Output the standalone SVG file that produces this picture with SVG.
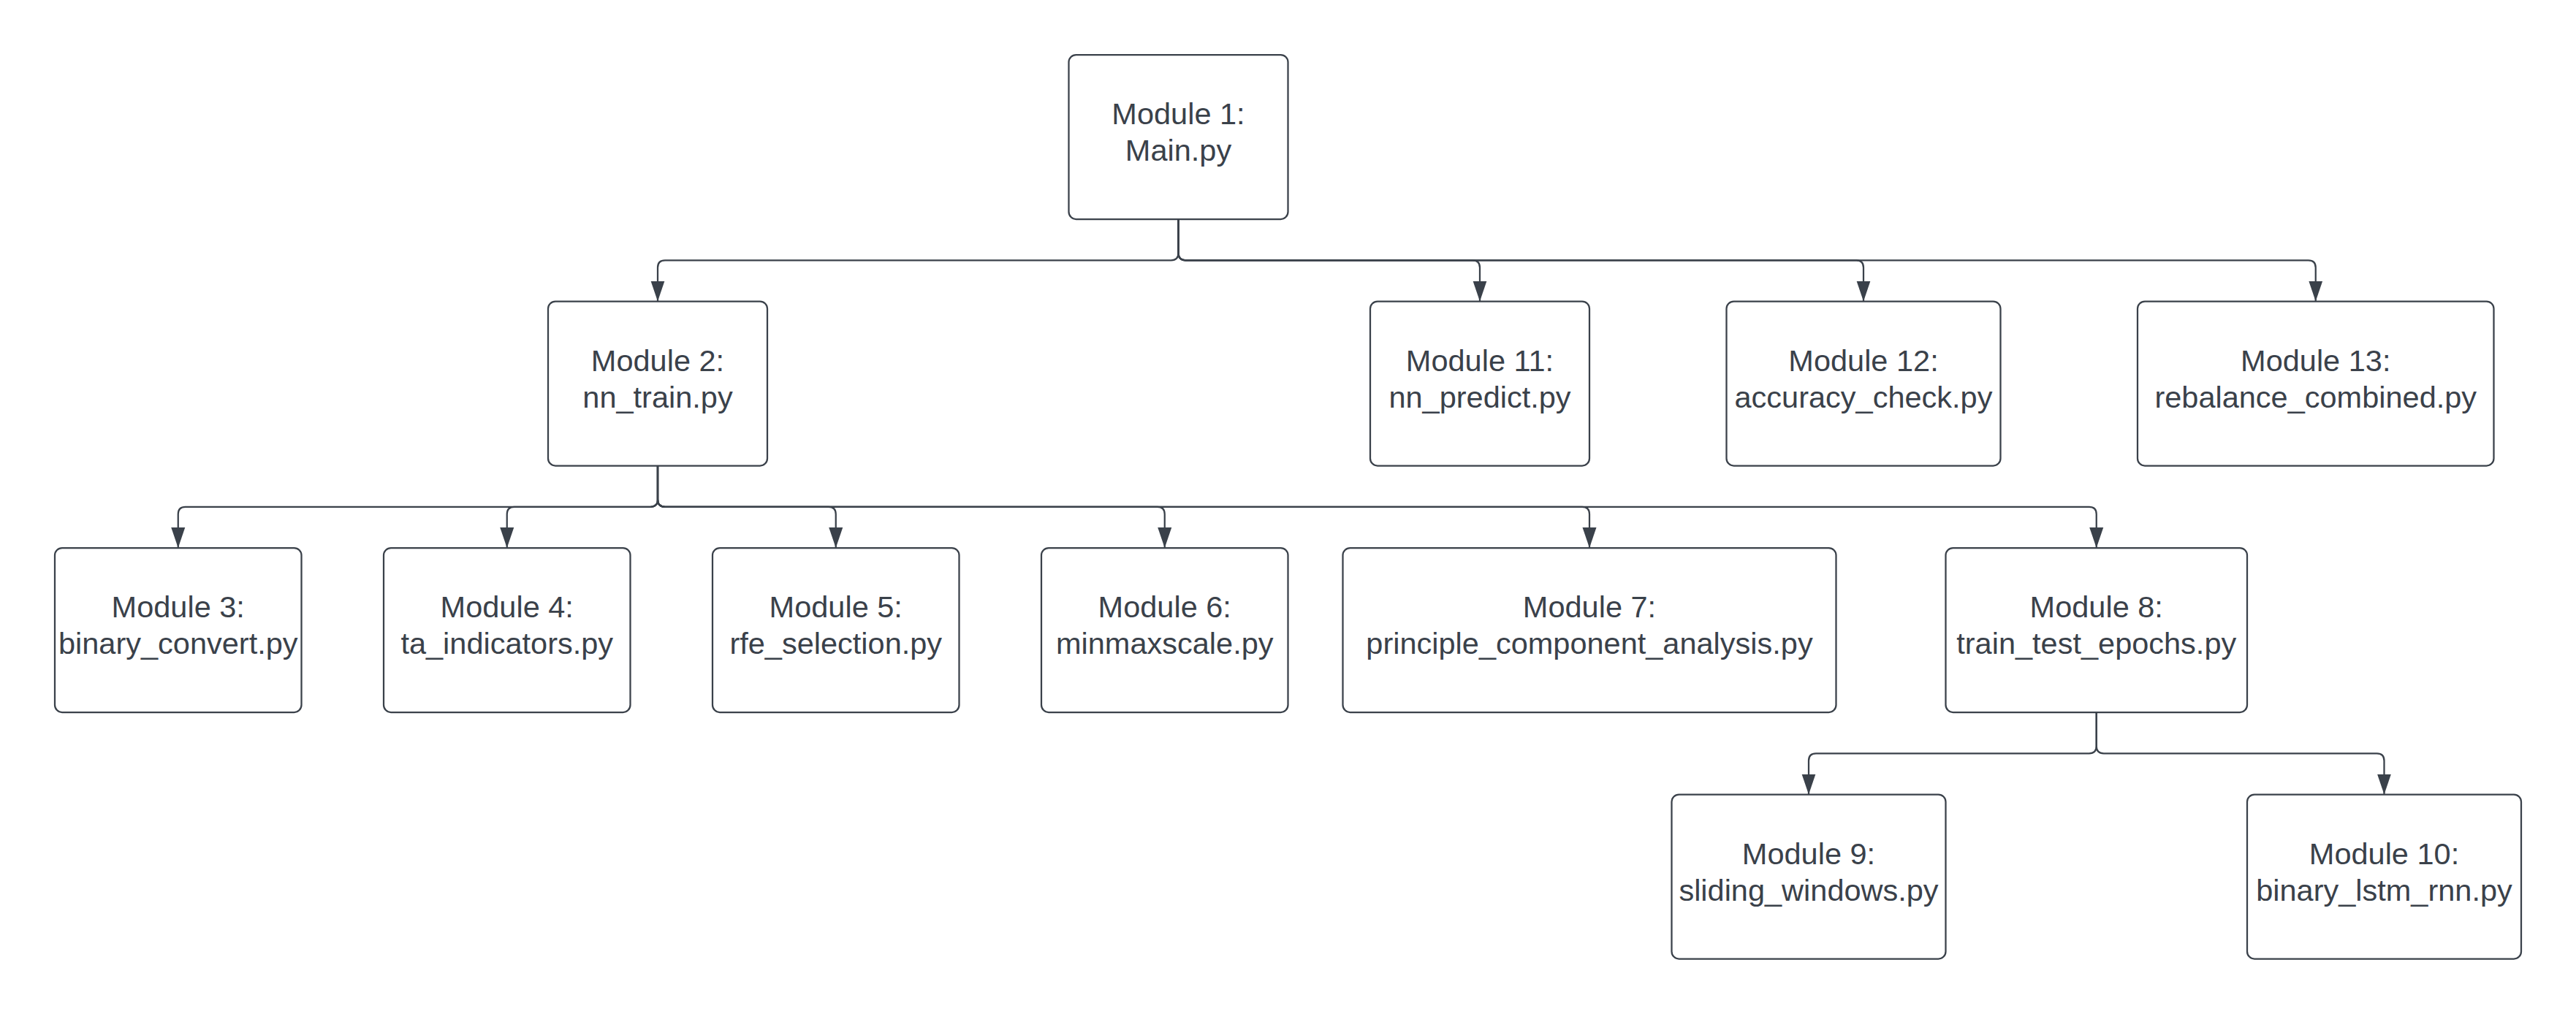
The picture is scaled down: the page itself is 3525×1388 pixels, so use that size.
<svg xmlns="http://www.w3.org/2000/svg" width="3525" height="1388" viewBox="0 0 3525 1388">
<defs>
<style>
.box{fill:#ffffff;stroke:#3a414a;stroke-width:2.25}
.lbl{font-family:"Liberation Sans",Arial,sans-serif;font-size:41.5px;fill:#3a414a;text-anchor:middle}
.conn{fill:none;stroke:#3a414a;stroke-width:2.25}
</style>
<marker id="arr" viewBox="0 -10 28 20" refX="28" refY="0" markerWidth="28" markerHeight="20" markerUnits="userSpaceOnUse" orient="auto">
<path d="M0,-9.5 L28,0 L0,9.5 Z" fill="#3a414a"/>
</marker>
</defs>
<rect width="3525" height="1388" fill="#ffffff"/>
<g id="connectors">
<path class="conn" marker-end="url(#arr)" d="M 1612.5 299.5 V 346.25 Q 1612.5 356.25 1602.5 356.25 H 910 Q 900 356.25 900 366.25 V 412.5"/>
<path class="conn" marker-end="url(#arr)" d="M 1612.5 299.5 V 346.25 Q 1612.5 356.25 1622.5 356.25 H 2015 Q 2025 356.25 2025 366.25 V 412.5"/>
<path class="conn" marker-end="url(#arr)" d="M 1612.5 299.5 V 346.25 Q 1612.5 356.25 1622.5 356.25 H 2540 Q 2550 356.25 2550 366.25 V 412.5"/>
<path class="conn" marker-end="url(#arr)" d="M 1612.5 299.5 V 346.25 Q 1612.5 356.25 1622.5 356.25 H 3158.75 Q 3168.75 356.25 3168.75 366.25 V 412.5"/>
<path class="conn" marker-end="url(#arr)" d="M 900 637.5 V 683.75 Q 900 693.75 890 693.75 H 253.75 Q 243.75 693.75 243.75 703.75 V 750"/>
<path class="conn" marker-end="url(#arr)" d="M 900 637.5 V 683.75 Q 900 693.75 890 693.75 H 703.75 Q 693.75 693.75 693.75 703.75 V 750"/>
<path class="conn" marker-end="url(#arr)" d="M 900 637.5 V 683.75 Q 900 693.75 910 693.75 H 1133.75 Q 1143.75 693.75 1143.75 703.75 V 750"/>
<path class="conn" marker-end="url(#arr)" d="M 900 637.5 V 683.75 Q 900 693.75 910 693.75 H 1583.75 Q 1593.75 693.75 1593.75 703.75 V 750"/>
<path class="conn" marker-end="url(#arr)" d="M 900 637.5 V 683.75 Q 900 693.75 910 693.75 H 2165 Q 2175 693.75 2175 703.75 V 750"/>
<path class="conn" marker-end="url(#arr)" d="M 900 637.5 V 683.75 Q 900 693.75 910 693.75 H 2858.75 Q 2868.75 693.75 2868.75 703.75 V 750"/>
<path class="conn" marker-end="url(#arr)" d="M 2868.75 975 V 1021.25 Q 2868.75 1031.25 2858.75 1031.25 H 2485 Q 2475 1031.25 2475 1041.25 V 1087.5"/>
<path class="conn" marker-end="url(#arr)" d="M 2868.75 975 V 1021.25 Q 2868.75 1031.25 2878.75 1031.25 H 3252.5 Q 3262.5 1031.25 3262.5 1041.25 V 1087.5"/>
</g>
<g id="module1"><rect class="box" x="1462.5" y="75" width="300" height="225" rx="10"/><text class="lbl" x="1612.5" y="170">Module 1:</text><text class="lbl" x="1612.5" y="220">Main.py</text></g>
<g id="module2"><rect class="box" x="750" y="412.5" width="300" height="225" rx="10"/><text class="lbl" x="900" y="507.5">Module 2:</text><text class="lbl" x="900" y="557.5">nn_train.py</text></g>
<g id="module11"><rect class="box" x="1875" y="412.5" width="300" height="225" rx="10"/><text class="lbl" x="2025" y="507.5">Module 11:</text><text class="lbl" x="2025" y="557.5">nn_predict.py</text></g>
<g id="module12"><rect class="box" x="2362.5" y="412.5" width="375" height="225" rx="10"/><text class="lbl" x="2550" y="507.5">Module 12:</text><text class="lbl" x="2550" y="557.5">accuracy_check.py</text></g>
<g id="module13"><rect class="box" x="2925" y="412.5" width="487.5" height="225" rx="10"/><text class="lbl" x="3168.75" y="507.5">Module 13:</text><text class="lbl" x="3168.75" y="557.5">rebalance_combined.py</text></g>
<g id="module3"><rect class="box" x="75" y="750" width="337.5" height="225" rx="10"/><text class="lbl" x="243.75" y="845">Module 3:</text><text class="lbl" x="243.75" y="895">binary_convert.py</text></g>
<g id="module4"><rect class="box" x="525" y="750" width="337.5" height="225" rx="10"/><text class="lbl" x="693.75" y="845">Module 4:</text><text class="lbl" x="693.75" y="895">ta_indicators.py</text></g>
<g id="module5"><rect class="box" x="975" y="750" width="337.5" height="225" rx="10"/><text class="lbl" x="1143.75" y="845">Module 5:</text><text class="lbl" x="1143.75" y="895">rfe_selection.py</text></g>
<g id="module6"><rect class="box" x="1425" y="750" width="337.5" height="225" rx="10"/><text class="lbl" x="1593.75" y="845">Module 6:</text><text class="lbl" x="1593.75" y="895">minmaxscale.py</text></g>
<g id="module7"><rect class="box" x="1837.5" y="750" width="675" height="225" rx="10"/><text class="lbl" x="2175" y="845">Module 7:</text><text class="lbl" x="2175" y="895">principle_component_analysis.py</text></g>
<g id="module8"><rect class="box" x="2662.5" y="750" width="412.5" height="225" rx="10"/><text class="lbl" x="2868.75" y="845">Module 8:</text><text class="lbl" x="2868.75" y="895">train_test_epochs.py</text></g>
<g id="module9"><rect class="box" x="2287.5" y="1087.5" width="375" height="225" rx="10"/><text class="lbl" x="2475" y="1182.5">Module 9:</text><text class="lbl" x="2475" y="1232.5">sliding_windows.py</text></g>
<g id="module10"><rect class="box" x="3075" y="1087.5" width="375" height="225" rx="10"/><text class="lbl" x="3262.5" y="1182.5">Module 10:</text><text class="lbl" x="3262.5" y="1232.5">binary_lstm_rnn.py</text></g>
</svg>
